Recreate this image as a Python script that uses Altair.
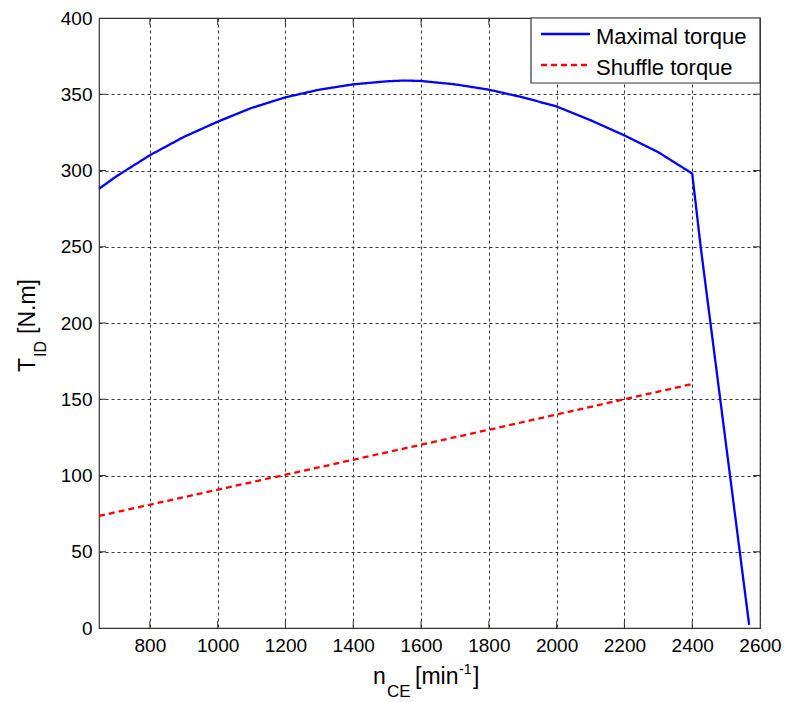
import altair as alt
import pandas as pd

# ---- data ----
max_speed = [650, 700, 800, 900, 1000, 1100, 1200, 1300, 1400, 1500, 1550, 1600,
             1700, 1800, 1900, 2000, 2100, 2200, 2300, 2400, 2425, 2568]
max_torque = [288, 296, 310, 322, 332, 341, 348, 353, 356.5, 358.5, 359, 358.7,
              356.5, 353, 348, 342, 333, 323, 312, 298, 250, 2]
shuffle_speed = [650, 1200, 1800, 2400]
shuffle_torque = [73.5, 100.5, 130, 160]

series_names = ["Maximal torque", "Shuffle torque"]
series_colors = ["#0000ff", "#ff0000"]
series_dash = [[1, 0], [6, 4]]
x_ticks = [800, 1000, 1200, 1400, 1600, 1800, 2000, 2200, 2400, 2600]
y_ticks = [0, 50, 100, 150, 200, 250, 300, 350, 400]
x_domain = [650, 2600]
y_domain = [0, 400]

FONT = "Liberation Sans"
W, H = 661, 610

rows = []
for s, t in zip(max_speed, max_torque):
    rows.append({"speed": s, "torque": t, "series": series_names[0], "order": len(rows)})
for s, t in zip(shuffle_speed, shuffle_torque):
    rows.append({"speed": s, "torque": t, "series": series_names[1], "order": len(rows)})
df = pd.DataFrame(rows)

xscale = alt.Scale(domain=x_domain, nice=False, zero=False)
yscale = alt.Scale(domain=y_domain, nice=False, zero=False)

axis_common = dict(title=None, grid=True, ticks=False, domain=False,
                   labelFontSize=19, labelFont=FONT, labelColor="black",
                   gridDash=[3, 3], gridColor="#333", gridOpacity=1,
                   labelFlush=False, format="d")

lines = alt.Chart(df).mark_line(strokeWidth=2.3).encode(
    x=alt.X("speed:Q", scale=xscale,
            axis=alt.Axis(values=x_ticks, labelPadding=8, **axis_common)),
    y=alt.Y("torque:Q", scale=yscale,
            axis=alt.Axis(values=y_ticks, labelPadding=7, **axis_common)),
    color=alt.Color("series:N",
                    scale=alt.Scale(domain=series_names, range=series_colors),
                    legend=None),
    strokeDash=alt.StrokeDash("series:N",
                              scale=alt.Scale(domain=series_names, range=series_dash),
                              legend=None),
    order="order:Q",
)

xt = pd.DataFrame({"v": x_ticks[:-1]})
yt = pd.DataFrame({"v": y_ticks[1:-1]})
tick_color = "#333"
xt_bottom = alt.Chart(xt).mark_rule(color=tick_color).encode(
    x=alt.X("v:Q", scale=xscale), y=alt.value(H), y2=alt.value(H - 7))
xt_top = alt.Chart(xt).mark_rule(color=tick_color).encode(
    x=alt.X("v:Q", scale=xscale), y=alt.value(0), y2=alt.value(7))
yt_left = alt.Chart(yt).mark_rule(color=tick_color).encode(
    y=alt.Y("v:Q", scale=yscale), x=alt.value(0), x2=alt.value(7))
yt_right = alt.Chart(yt).mark_rule(color=tick_color).encode(
    y=alt.Y("v:Q", scale=yscale), x=alt.value(W), x2=alt.value(W - 7))

one = pd.DataFrame({"a": [0]})


def label(text, x, y, size, angle=0):
    return alt.Chart(one).mark_text(
        text=text, font=FONT, fontSize=size, color="black", align="left",
        baseline="alphabetic", angle=angle).encode(x=alt.value(x), y=alt.value(y))


titles = [
    label("n", 274, 666, 23),
    label("CE", 288, 679, 17),
    label("[min", 316, 666, 23),
    label("-1", 360, 656, 14),
    label("]", 374, 666, 23),
    label("T", -64, 354, 23, 270),
    label("ID", -53, 339, 16, 270),
    label("[N.m]", -64, 316, 23, 270),
]

# legend box (drawn above grid and lines, as in the reference)
legend_box = alt.Chart(one).mark_rect(fill="white", stroke="#333", strokeWidth=1.2).encode(
    x=alt.value(432), x2=alt.value(W), y=alt.value(0), y2=alt.value(65))
legend_items = [legend_box]
row_y = [16, 47]
for i, name in enumerate(series_names):
    legend_items.append(
        alt.Chart(one).mark_rule(color=series_colors[i], strokeWidth=2.3,
                                 strokeDash=series_dash[i]).encode(
            x=alt.value(442), x2=alt.value(491), y=alt.value(row_y[i])))
    legend_items.append(label(name, 497, row_y[i] + 10, 22))

chart = alt.layer(xt_bottom, xt_top, yt_left, yt_right, lines,
                  *legend_items, *titles).properties(
    width=W, height=H,
    padding={"left": 99, "top": 18, "right": 26, "bottom": 74},
    autosize=alt.AutoSizeParams(type="none"),
    background="white",
).configure_view(stroke="#333", strokeWidth=1.2)

chart.save("out.html", embed_options={"renderer": "svg", "actions": False})
